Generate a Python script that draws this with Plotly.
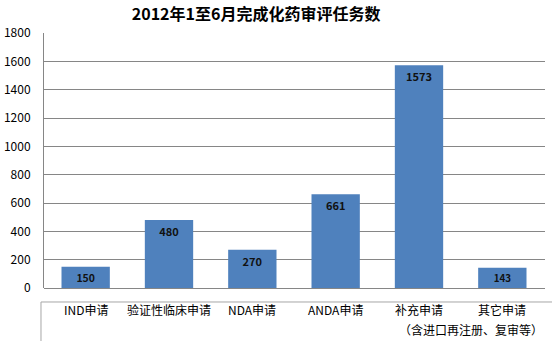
import plotly.graph_objects as go

categories = ["IND申请", "验证性临床申请", "NDA申请", "ANDA申请", "补充申请", "其它申请"]
values = [150, 480, 270, 661, 1573, 143]
label_line2 = ["", "", "", "", "（含进口再注册、复审等）", ""]
y_ticks = [0, 200, 400, 600, 800, 1000, 1200, 1400, 1600, 1800]

FONT = "Noto Sans CJK SC"

fig = go.Figure()
fig.add_trace(go.Bar(
    x=categories, y=values,
    marker=dict(color="#4F81BD", line=dict(width=0)),
    text=[str(v) for v in values],
    textposition="inside", insidetextanchor="end",
    textfont=dict(family=FONT, size=11, color="#111111", weight="bold"),
    textangle=0,
))

for c in categories:
    fig.add_annotation(x=c, xref="x", y=-0.086, yref="paper", text=c,
                       showarrow=False, font=dict(family=FONT, size=12, color="#000000"),
                       yanchor="middle")
for c, t in zip(categories, label_line2):
    if t:
        fig.add_annotation(x=c, xref="x", y=-0.163, yref="paper", text=t,
                           showarrow=False, xshift=52,
                           font=dict(family=FONT, size=12, color="#000000"),
                           yanchor="middle")

fig.add_shape(type="line", xref="paper", yref="paper", x0=-0.006, x1=1.02,
              y0=-0.0549, y1=-0.0549, line=dict(color="#A6A6A6", width=1))
fig.add_shape(type="line", xref="paper", yref="paper", x0=-0.006, x1=-0.006,
              y0=-0.0549, y1=-0.25, line=dict(color="#A6A6A6", width=1))

fig.update_layout(
    width=552, height=341,
    margin=dict(l=44, r=7, t=33, b=53, autoexpand=False),
    paper_bgcolor="white", plot_bgcolor="white",
    bargap=0.42,
    showlegend=False,
    title=dict(text="<b>2012年1至6月完成化药审评任务数</b>", x=0.464, xanchor="center",
               y=0.958, yanchor="middle",
               font=dict(family=FONT, size=16, color="#000000")),
    xaxis=dict(showticklabels=False, showgrid=False, showline=False, ticks="",
               zeroline=False, automargin=False),
    yaxis=dict(range=[0, 1800], tickvals=y_ticks, showgrid=True, gridcolor="#868686",
               gridwidth=1, showline=True, linecolor="#868686", linewidth=1,
               zeroline=True, zerolinecolor="#868686", zerolinewidth=1,
               ticks="", ticklabelstandoff=10, automargin=False,
               tickfont=dict(family=FONT, size=12, color="#000000")),
)

fig.write_html("out.html")
